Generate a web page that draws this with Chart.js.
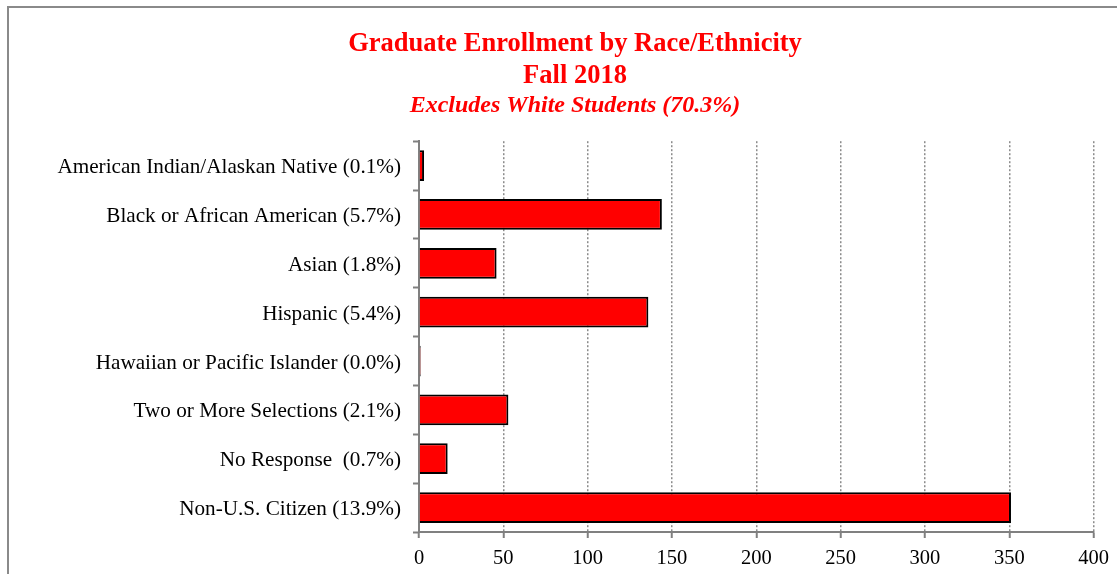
<!DOCTYPE html>
<html>
<head>
<meta charset="utf-8">
<script src="https://cdn.jsdelivr.net/npm/chart.js@4"></script>
<style>
  body { margin: 0; overflow: hidden; background: #fff; }
  #frame { position: absolute; left: 7px; top: 6px; width: 2000px; height: 2000px; border: 2px solid #8a8a8a; }
  #myChart { position: absolute; left: 0; top: 0; }
</style>
</head>
<body>
<div id="frame"></div>
<canvas id="myChart" width="1117" height="574"></canvas>
<script>
'use strict';

//***************** Data *****************
let categories = [
  'American Indian/Alaskan Native (0.1%)',
  'Black or African American (5.7%)',
  'Asian (1.8%)',
  'Hispanic (5.4%)',
  'Hawaiian or Pacific Islander (0.0%)',
  'Two or More Selections (2.1%)',
  'No Response  (0.7%)',
  'Non-U.S. Citizen (13.9%)'
];
let enrollment = [3, 144, 46, 136, 1, 53, 17, 351];
let xTicks = [0, 50, 100, 150, 200, 250, 300, 350, 400];

let titleLines = ['Graduate Enrollment by Race/Ethnicity', 'Fall 2018'];
let subtitleText = 'Excludes White Students (70.3%)';

//***************** Chart *****************
// left padding pushes the titles right so they centre on the chart frame;
// the long y labels just spill into that padding
let serif = "'Liberation Serif', 'Times New Roman', serif";
let ctx = document.getElementById('myChart');

let myChartObj = {
  type: 'bar',
  data: {
    labels: categories,
    datasets: [{
      data: enrollment,
      backgroundColor: '#ff0000',
      borderColor: '#000000',
      borderWidth: 2,
      barPercentage: 0.63,
      categoryPercentage: 1
    }]
  },
  options: {
    indexAxis: 'y',
    responsive: false,
    animation: false,
    layout: { padding: { left: 55, right: 22, top: 0, bottom: 0 } },
    plugins: {
      legend: { display: false },
      tooltip: { enabled: false },
      title: {
        display: true,
        text: titleLines,
        color: '#ff0000',
        font: { family: serif, size: 26.5, weight: 'bold', lineHeight: 1.2 },
        padding: { top: 28, bottom: 0 }
      },
      subtitle: {
        display: true,
        text: subtitleText,
        color: '#ff0000',
        font: { family: serif, size: 24, weight: 'bold', style: 'italic', lineHeight: 1.15 },
        padding: { top: 0, bottom: 22 }
      }
    },
    scales: {
      x: {
        min: 0,
        max: 400,
        afterBuildTicks: function (scale) {
          scale.ticks = xTicks.map(v => ({ value: v }));
        },
        afterFit: function (scale) { scale.height = 42; },
        border: { color: '#808080', width: 2, dash: [2, 2] },
        grid: {
          color: '#8c8c8c',
          lineWidth: 1.5,
          tickLength: 6,
          tickColor: '#808080',
          tickWidth: 2,
          tickBorderDash: []
        },
        ticks: {
          color: '#000',
          padding: 8,
          maxRotation: 0,
          font: { family: serif, size: 20.5 }
        }
      },
      y: {
        afterFit: function (scale) { scale.width = 364; },
        border: { color: '#808080', width: 2 },
        grid: {
          offset: true,
          drawOnChartArea: false,
          tickLength: 6,
          tickColor: '#808080',
          tickWidth: 2
        },
        ticks: {
          color: '#000',
          padding: 12,
          labelOffset: 2,
          font: { family: serif, size: 21.2 }
        }
      }
    }
  }
};

new Chart(ctx, myChartObj);
</script>
</body>
</html>
